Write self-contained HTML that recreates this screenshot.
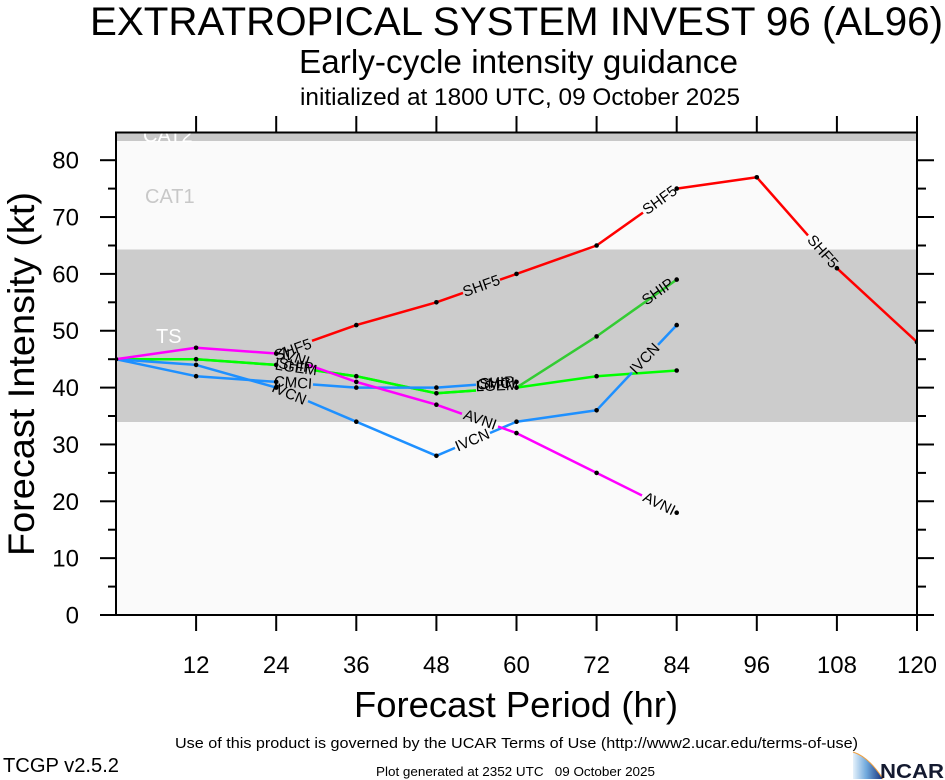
<!DOCTYPE html>
<html>
<head>
<meta charset="utf-8">
<style>
  html, body { margin:0; padding:0; background:#ffffff; }
  svg { display:block; }
  text { font-family: "Liberation Sans", Arial, sans-serif; }
</style>
</head>
<body>
<svg width="945" height="780" viewBox="0 0 945 780" xmlns="http://www.w3.org/2000/svg">
  <defs>
    <clipPath id="plotclip"><rect x="116" y="132.5" width="801" height="482.5"/></clipPath>
    <linearGradient id="sw" x1="0" y1="0" x2="1" y2="0">
      <stop offset="0" stop-color="#e6f2fb"/>
      <stop offset="0.45" stop-color="#6fa8dc"/>
      <stop offset="1" stop-color="#16307a"/>
    </linearGradient>
  </defs>

  <!-- Titles -->
  <text x="90" y="35" font-size="40" textLength="853" lengthAdjust="spacingAndGlyphs" fill="#000">EXTRATROPICAL SYSTEM INVEST 96 (AL96)</text>
  <text x="299" y="73" font-size="33" textLength="439" lengthAdjust="spacingAndGlyphs" fill="#000">Early-cycle intensity guidance</text>
  <text x="300" y="105" font-size="24" textLength="440" lengthAdjust="spacingAndGlyphs" fill="#000">initialized at 1800 UTC, 09 October 2025</text>

  <!-- Plot background and bands -->
  <g clip-path="url(#plotclip)">
    <rect x="116" y="132.5" width="801" height="482.5" fill="#fafafa"/>
    <rect x="116" y="132.5" width="801" height="8.5" fill="#c8c8c8"/>
    <rect x="116" y="249.5" width="801" height="172.5" fill="#cccccc"/>
    <text x="143" y="142" font-size="20" fill="#ffffff">CAT2</text>
    <text x="145" y="203" font-size="20" fill="#c8c8c8">CAT1</text>
    <text x="156" y="343" font-size="20" fill="#ffffff">TS</text>

    <g fill="none" stroke-width="2.5" stroke-linejoin="round" stroke-linecap="butt">
      <!-- SHF5 red -->
      <polyline stroke="#ff0000" points="312,340.8 356.3,325.1 436.4,302.3 463,292.9"/>
      <polyline stroke="#ff0000" points="500,279.7 516.5,273.9 596.6,245.5 643,212.6"/>
      <polyline stroke="#ff0000" points="676.7,188.6 756.8,177.3 808,235.4"/>
      <polyline stroke="#ff0000" points="836.9,268.2 917,342.1"/>
      <!-- SHIP green -->
      <polyline stroke="#33cc33" points="116,359.2 196.1,359.2 276.2,364.9"/>
      <polyline stroke="#33cc33" points="314,370.2 356.3,376.2 436.4,393.3 476,390.5"/>
      <polyline stroke="#33cc33" points="516.5,387.6 596.6,336.4 676.7,279.6"/>
      <!-- LGEM bright green -->
      <polyline stroke="#00ff00" points="116,359.2 196.1,359.2 276.2,364.9"/>
      <polyline stroke="#00ff00" points="314,370.2 356.3,376.2 436.4,393.3 476,390.5"/>
      <polyline stroke="#00ff00" points="516.5,387.6 596.6,376.2 676.7,370.5"/>
      <!-- CMCI blue -->
      <polyline stroke="#1e90ff" points="116,359.2 196.1,376.2 276.2,381.9"/>
      <polyline stroke="#1e90ff" points="313,384.5 356.3,387.6 436.4,387.6 476,384.8"/>
      <!-- IVCN blue -->
      <polyline stroke="#1e90ff" points="116,359.2 196.1,364.9 276.2,387.6"/>
      <polyline stroke="#1e90ff" points="308,401.1 356.3,421.7 436.4,455.8 455,447.9"/>
      <polyline stroke="#1e90ff" points="490,433.0 516.5,421.7 596.6,410.3 632,372.6"/>
      <polyline stroke="#1e90ff" points="658,344.9 676.7,325.1"/>
      <!-- AVNI magenta -->
      <polyline stroke="#ff00ff" points="116,359.2 196.1,347.8 276.2,353.5"/>
      <polyline stroke="#ff00ff" points="308,364.8 356.3,381.9 436.4,404.7 462,413.8"/>
      <polyline stroke="#ff00ff" points="498,426.5 516.5,433.1 596.6,472.9 642,495.5"/>
    </g>

    <!-- Data points -->
    <g fill="#000">
      <circle cx="116" cy="359.2" r="2.3"/>
      <circle cx="196.1" cy="347.8" r="2.3"/><circle cx="196.1" cy="359.2" r="2.3"/><circle cx="196.1" cy="364.9" r="2.3"/><circle cx="196.1" cy="376.2" r="2.3"/>
      <circle cx="276.2" cy="353.5" r="2.3"/><circle cx="276.2" cy="364.9" r="2.3"/><circle cx="276.2" cy="381.9" r="2.3"/><circle cx="276.2" cy="387.6" r="2.3"/>
      <circle cx="356.3" cy="325.1" r="2.3"/><circle cx="356.3" cy="376.2" r="2.3"/><circle cx="356.3" cy="381.9" r="2.3"/><circle cx="356.3" cy="387.6" r="2.3"/><circle cx="356.3" cy="421.7" r="2.3"/>
      <circle cx="436.4" cy="302.3" r="2.3"/><circle cx="436.4" cy="387.6" r="2.3"/><circle cx="436.4" cy="393.3" r="2.3"/><circle cx="436.4" cy="404.7" r="2.3"/><circle cx="436.4" cy="455.8" r="2.3"/>
      <circle cx="516.5" cy="273.9" r="2.3"/><circle cx="516.5" cy="387.6" r="2.3"/><circle cx="516.5" cy="381.9" r="2.3"/><circle cx="516.5" cy="421.7" r="2.3"/><circle cx="516.5" cy="433.1" r="2.3"/>
      <circle cx="596.6" cy="245.5" r="2.3"/><circle cx="596.6" cy="336.4" r="2.3"/><circle cx="596.6" cy="376.2" r="2.3"/><circle cx="596.6" cy="410.3" r="2.3"/><circle cx="596.6" cy="472.9" r="2.3"/>
      <circle cx="676.7" cy="188.6" r="2.3"/><circle cx="676.7" cy="279.6" r="2.3"/><circle cx="676.7" cy="325.1" r="2.3"/><circle cx="676.7" cy="370.5" r="2.3"/><circle cx="676.7" cy="512.7" r="2.3"/>
      <circle cx="756.8" cy="177.3" r="2.3"/>
      <circle cx="836.9" cy="268.2" r="2.3"/>
      <circle cx="917" cy="342.1" r="2.3"/>
    </g>

    <!-- Line labels -->
    <g font-size="15" fill="#000" text-anchor="middle" dominant-baseline="central">
      <!-- cluster at 24h -->
      <text transform="translate(293,350) rotate(-19.5)">SHF5</text>
      <text transform="translate(293,357) rotate(19.5)">AVNI</text>
      <text transform="translate(296,366) rotate(8)">SHIP</text>
      <text transform="translate(296,368) rotate(8)">LGEM</text>
      <text transform="translate(293,383) rotate(4)">CMCI</text>
      <text transform="translate(289,394) rotate(23)">IVCN</text>
      <!-- cluster at 60h -->
      <text transform="translate(497,383) rotate(-4)">SHIP</text>
      <text transform="translate(497,386) rotate(-2)">LGEM</text>
      <text transform="translate(496,384) rotate(-3)">CMCI</text>
      <!-- along segments -->
      <text transform="translate(481.5,286.3) rotate(-19.5)">SHF5</text>
      <text transform="translate(660,200.5) rotate(-35.4)">SHF5</text>
      <text transform="translate(822.5,251.8) rotate(48.6)">SHF5</text>
      <text transform="translate(480,420.1) rotate(19.5)">AVNI</text>
      <text transform="translate(659,504) rotate(26.4)">AVNI</text>
      <text transform="translate(472.5,440.5) rotate(-23)">IVCN</text>
      <text transform="translate(645,358.8) rotate(-46.8)">IVCN</text>
      <text transform="translate(658,292) rotate(-35.3)">SHIP</text>
    </g>
  </g>

  <!-- Plot border -->
  <rect x="116" y="132.5" width="801" height="482.5" fill="none" stroke="#000" stroke-width="2"/>

  <!-- Ticks -->
  <g stroke="#000" stroke-width="2">
    <line x1="100" y1="615" x2="116" y2="615"/>
    <line x1="100" y1="558.15" x2="116" y2="558.15"/>
    <line x1="100" y1="501.3" x2="116" y2="501.3"/>
    <line x1="100" y1="444.45" x2="116" y2="444.45"/>
    <line x1="100" y1="387.6" x2="116" y2="387.6"/>
    <line x1="100" y1="330.75" x2="116" y2="330.75"/>
    <line x1="100" y1="273.9" x2="116" y2="273.9"/>
    <line x1="100" y1="217.05" x2="116" y2="217.05"/>
    <line x1="100" y1="160.2" x2="116" y2="160.2"/>
    <line x1="108" y1="586.6" x2="116" y2="586.6"/>
    <line x1="108" y1="529.7" x2="116" y2="529.7"/>
    <line x1="108" y1="472.9" x2="116" y2="472.9"/>
    <line x1="108" y1="416.0" x2="116" y2="416.0"/>
    <line x1="108" y1="359.2" x2="116" y2="359.2"/>
    <line x1="108" y1="302.3" x2="116" y2="302.3"/>
    <line x1="108" y1="245.5" x2="116" y2="245.5"/>
    <line x1="108" y1="188.6" x2="116" y2="188.6"/>
    <line x1="917" y1="615" x2="934" y2="615"/>
    <line x1="917" y1="558.15" x2="934" y2="558.15"/>
    <line x1="917" y1="501.3" x2="934" y2="501.3"/>
    <line x1="917" y1="444.45" x2="934" y2="444.45"/>
    <line x1="917" y1="387.6" x2="934" y2="387.6"/>
    <line x1="917" y1="330.75" x2="934" y2="330.75"/>
    <line x1="917" y1="273.9" x2="934" y2="273.9"/>
    <line x1="917" y1="217.05" x2="934" y2="217.05"/>
    <line x1="917" y1="160.2" x2="934" y2="160.2"/>
    <line x1="917" y1="586.6" x2="926" y2="586.6"/>
    <line x1="917" y1="529.7" x2="926" y2="529.7"/>
    <line x1="917" y1="472.9" x2="926" y2="472.9"/>
    <line x1="917" y1="416.0" x2="926" y2="416.0"/>
    <line x1="917" y1="359.2" x2="926" y2="359.2"/>
    <line x1="917" y1="302.3" x2="926" y2="302.3"/>
    <line x1="917" y1="245.5" x2="926" y2="245.5"/>
    <line x1="917" y1="188.6" x2="926" y2="188.6"/>
    <line x1="196.1" y1="615" x2="196.1" y2="631"/>
    <line x1="276.2" y1="615" x2="276.2" y2="631"/>
    <line x1="356.3" y1="615" x2="356.3" y2="631"/>
    <line x1="436.4" y1="615" x2="436.4" y2="631"/>
    <line x1="516.5" y1="615" x2="516.5" y2="631"/>
    <line x1="596.6" y1="615" x2="596.6" y2="631"/>
    <line x1="676.7" y1="615" x2="676.7" y2="631"/>
    <line x1="756.8" y1="615" x2="756.8" y2="631"/>
    <line x1="836.9" y1="615" x2="836.9" y2="631"/>
    <line x1="917" y1="615" x2="917" y2="631"/>
    <line x1="196.1" y1="116" x2="196.1" y2="133"/>
    <line x1="276.2" y1="116" x2="276.2" y2="133"/>
    <line x1="356.3" y1="116" x2="356.3" y2="133"/>
    <line x1="436.4" y1="116" x2="436.4" y2="133"/>
    <line x1="516.5" y1="116" x2="516.5" y2="133"/>
    <line x1="596.6" y1="116" x2="596.6" y2="133"/>
    <line x1="676.7" y1="116" x2="676.7" y2="133"/>
    <line x1="756.8" y1="116" x2="756.8" y2="133"/>
    <line x1="836.9" y1="116" x2="836.9" y2="133"/>
    <line x1="917" y1="116" x2="917" y2="133"/>
  </g>

  <!-- Y tick labels -->
  <g font-size="24" fill="#000" text-anchor="end">
    <text x="79" y="623.5">0</text>
    <text x="79" y="566.6">10</text>
    <text x="79" y="509.8">20</text>
    <text x="79" y="452.9">30</text>
    <text x="79" y="396.1">40</text>
    <text x="79" y="339.2">50</text>
    <text x="79" y="282.4">60</text>
    <text x="79" y="225.5">70</text>
    <text x="79" y="168.7">80</text>
  </g>

  <!-- X tick labels -->
  <g font-size="24" fill="#000" text-anchor="middle">
    <text x="196.1" y="673">12</text>
    <text x="276.2" y="673">24</text>
    <text x="356.3" y="673">36</text>
    <text x="436.4" y="673">48</text>
    <text x="516.5" y="673">60</text>
    <text x="596.6" y="673">72</text>
    <text x="676.7" y="673">84</text>
    <text x="756.8" y="673">96</text>
    <text x="836.9" y="673">108</text>
    <text x="917" y="673">120</text>
  </g>

  <!-- Axis titles -->
  <text transform="translate(34,556) rotate(-90)" font-size="37" textLength="364" lengthAdjust="spacingAndGlyphs" fill="#000">Forecast Intensity (kt)</text>
  <text x="354" y="717" font-size="36" textLength="324" lengthAdjust="spacingAndGlyphs" fill="#000">Forecast Period (hr)</text>

  <!-- Footer -->
  <text x="175" y="748" font-size="15" textLength="683" lengthAdjust="spacingAndGlyphs" fill="#000">Use of this product is governed by the UCAR Terms of Use (http://www2.ucar.edu/terms-of-use)</text>
  <text x="3" y="772" font-size="20" textLength="116" lengthAdjust="spacingAndGlyphs" fill="#000">TCGP v2.5.2</text>
  <text x="376" y="776" font-size="13" textLength="279" lengthAdjust="spacingAndGlyphs" fill="#000" xml:space="preserve">Plot generated at 2352 UTC   09 October 2025</text>

  <!-- NCAR logo -->
  <path d="M853,752 Q869,757 883,779 L853,779 Z" fill="url(#sw)"/>
  <path d="M853,752 Q869,757 883,779" fill="none" stroke="#f0a040" stroke-width="1"/>
  <text x="880" y="778" font-size="20" font-weight="bold" textLength="64" lengthAdjust="spacingAndGlyphs" fill="#141a30">NCAR</text>
</svg>
</body>
</html>
